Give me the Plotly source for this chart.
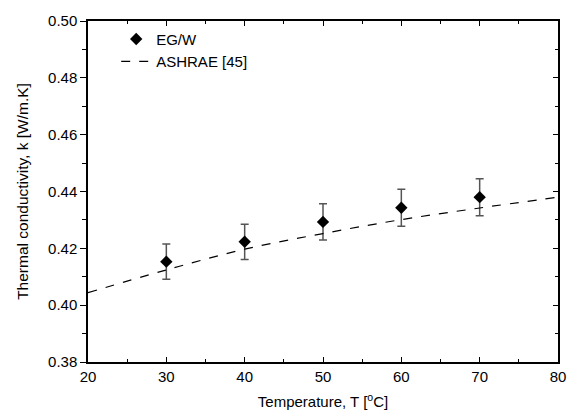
import plotly.graph_objects as go

temp_meas = [30, 40, 50, 60, 70]
k_meas = [0.4153, 0.4223, 0.4293, 0.4343, 0.4380]
k_err = [0.0062, 0.0062, 0.0064, 0.0065, 0.0065]

temp_ashrae = [20, 30, 40, 50, 60, 70, 80]
k_ashrae = [0.4044, 0.4124, 0.4197, 0.4252, 0.4301, 0.4342, 0.4380]

FONT = "Liberation Sans, Arial, sans-serif"

fig = go.Figure()
fig.add_trace(go.Scatter(
    x=temp_meas, y=k_meas, mode="markers", name="EG/W",
    marker=dict(symbol="diamond", size=9.5, color="black"),
    error_y=dict(type="data", array=k_err, visible=True, color="#555555",
                 thickness=1.5, width=4),
))
fig.add_trace(go.Scatter(
    x=temp_ashrae, y=k_ashrae, mode="lines", name="ASHRAE [45]",
    line=dict(color="black", width=1.2, dash="dash", shape="spline"),
))
# invisible helper trace so the mirrored axes with inward ticks are drawn
fig.add_trace(go.Scatter(x=[20], y=[0.38], xaxis="x2", yaxis="y2", mode="markers",
                         marker=dict(opacity=0), showlegend=False, hoverinfo="skip"))

tick_common = dict(tickcolor="black", tickwidth=1.2, showgrid=False, zeroline=False)

fig.update_layout(
    width=579, height=420,
    margin=dict(l=88, r=21, t=19, b=57),
    plot_bgcolor="white", paper_bgcolor="white",
    font=dict(family=FONT, size=15, color="black"),
    showlegend=True,
    legend=dict(x=0.06, y=0.995, xanchor="left", yanchor="top",
                bgcolor="rgba(0,0,0,0)", font=dict(size=15, family=FONT),
                tracegroupgap=0, itemwidth=30),
    xaxis=dict(
        range=[20, 80], tick0=20, dtick=10, ticks="inside", ticklen=5,
        showline=True, linecolor="black", linewidth=1.5,
        minor=dict(dtick=5, ticks="inside", ticklen=3, tickcolor="black", tickwidth=1.2),
        title=dict(text="Temperature, T [<sup>o</sup>C]", font=dict(size=15), standoff=13),
        tickfont=dict(size=15), **tick_common,
    ),
    xaxis2=dict(
        range=[20, 80], overlaying="x", side="top", tick0=20, dtick=10,
        ticks="inside", ticklen=5, showticklabels=False, showline=True,
        linecolor="black", linewidth=1.5,
        minor=dict(dtick=5, ticks="inside", ticklen=3, tickcolor="black", tickwidth=1.2),
        **tick_common,
    ),
    yaxis=dict(
        range=[0.38, 0.50], tick0=0.38, dtick=0.02, tickformat=".2f", ticks="outside",
        ticklen=6, showline=True, linecolor="black", linewidth=1.5,
        minor=dict(dtick=0.01, tick0=0.38, ticks="outside", ticklen=4, tickcolor="black", tickwidth=1.2),
        title=dict(text="Thermal conductivity, k [W/m.K]", font=dict(size=15.5), standoff=16),
        tickfont=dict(size=15), **tick_common,
    ),
    yaxis2=dict(
        range=[0.38, 0.50], overlaying="y", side="right", tick0=0.38, dtick=0.02,
        ticks="inside", ticklen=5, showticklabels=False, showline=True,
        linecolor="black", linewidth=1.5,
        minor=dict(dtick=0.01, tick0=0.38, ticks="inside", ticklen=3, tickcolor="black", tickwidth=1.2),
        **tick_common,
    ),
)

fig.write_html("out.html")
